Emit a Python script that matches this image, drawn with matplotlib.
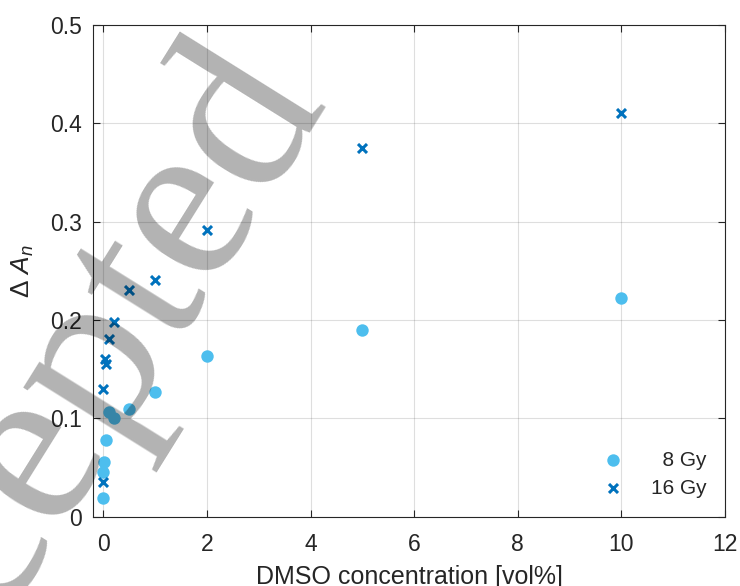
import matplotlib
matplotlib.use('Agg')
from matplotlib import pyplot as plt

#==============================================================================
# data
dmso8 = [0, 0, 0.02, 0.05, 0.1, 0.2, 0.5, 1, 2, 5, 10]
dA8 = [0.019, 0.045, 0.056, 0.078, 0.106, 0.100, 0.110, 0.127, 0.163, 0.190, 0.222]

dmso16 = [0, 0, 0.03, 0.05, 0.1, 0.2, 0.5, 1, 2, 5, 10]
dA16 = [0.035, 0.130, 0.160, 0.155, 0.181, 0.198, 0.231, 0.241, 0.292, 0.375, 0.411]

labels = ['  8 Gy', '16 Gy']
xticks = [0, 2, 4, 6, 8, 10, 12]
yticks = [0, 0.1, 0.2, 0.3, 0.4, 0.5]

#==============================================================================
plt.rcParams['font.family'] = ['Liberation Sans', 'DejaVu Sans']
plt.rcParams['mathtext.fontset'] = 'custom'
plt.rcParams['mathtext.rm'] = 'Liberation Sans'
plt.rcParams['mathtext.it'] = 'Liberation Sans:italic'

axcol = '#262626'
fig = plt.figure(figsize=(7.4, 5.86), dpi=100)
ax = fig.add_axes([0.1257, 0.1183, 0.9797 - 0.1257, 0.9573 - 0.1183])

ax.scatter(dmso8, dA8, s=80, marker='o', color='#4DBEEE', linewidths=0,
           label=labels[0], zorder=3)
ax.scatter(dmso16, dA16, s=42, marker='x', color='#0072BD', linewidths=2.2,
           label=labels[1], zorder=3)

ax.set_xlim(-0.2, 12)
ax.set_ylim(0, 0.5)
ax.set_xticks(xticks)
ax.set_yticks(yticks)
ax.set_xticklabels([str(t) for t in xticks])
ax.set_yticklabels(['0', '0.1', '0.2', '0.3', '0.4', '0.5'])

ax.grid(True, color='#262626', alpha=0.15, linewidth=0.8)
ax.set_axisbelow(True)
ax.tick_params(direction='in', length=5, width=0.8, colors=axcol,
               labelsize=16.5, top=True, right=True)
ax.tick_params(axis='x', pad=12)
ax.tick_params(axis='y', pad=8)
for sp in ax.spines.values():
    sp.set_color(axcol)
    sp.set_linewidth(0.8)

ax.set_xlabel('DMSO concentration [vol%]', fontsize=18, color=axcol, labelpad=6)
ax.set_ylabel(r'$\Delta\ A_n$', fontsize=19, color=axcol, labelpad=10)

leg = ax.legend(loc='lower right', frameon=False, fontsize=15,
                handletextpad=0.8, labelspacing=0.45, borderaxespad=0.5)
for t in leg.get_texts():
    t.set_color(axcol)

# "Accepted" watermark over the figure
fig.text(-145 / 740.0, (586 - 858) / 586.0, 'Accepted', family='Liberation Serif',
         fontsize=170, color='black', alpha=0.3, rotation=58,
         rotation_mode='anchor', ha='left', va='baseline', zorder=10)

fig.savefig('out.png', dpi=100)
